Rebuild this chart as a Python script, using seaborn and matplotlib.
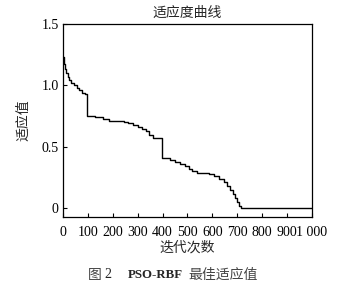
import matplotlib
matplotlib.use("Agg")
import matplotlib.pyplot as plt
import seaborn as sns
import pandas as pd

iterations = [0, 4, 8, 13, 20, 26, 33, 45, 55, 65, 78, 88, 98, 130, 160, 185, 245, 262, 280,
              300, 318, 332, 345, 360, 398, 430, 450, 470, 490, 505, 520, 540, 585, 605, 625,
              645, 660, 672, 682, 690, 700, 708, 715, 1000]
fitness = [1.23, 1.17, 1.13, 1.10, 1.07, 1.04, 1.02, 1.00, 0.98, 0.96, 0.94, 0.93, 0.75, 0.74,
           0.725, 0.71, 0.70, 0.69, 0.675, 0.66, 0.645, 0.63, 0.60, 0.575, 0.41, 0.395, 0.38,
           0.36, 0.345, 0.32, 0.30, 0.285, 0.275, 0.26, 0.235, 0.21, 0.185, 0.15, 0.12, 0.08,
           0.05, 0.02, 0.005, 0.005]
x_ticks = [0, 100, 200, 300, 400, 500, 600, 700, 800, 900, 1000]
x_tick_labels = ["0", "100", "200", "300", "400", "500", "600", "700", "800", "900", "1 000"]
y_ticks = [0, 0.5, 1.0, 1.5]
y_tick_labels = ["0", "0.5", "1.0", "1.5"]

sns.set_style("white")
plt.rcParams['font.family'] = ['Liberation Serif', 'Noto Sans CJK SC', 'DejaVu Sans']

df = pd.DataFrame({"iter": iterations, "fit": fitness})

fig = plt.figure(figsize=(3.54, 2.85), dpi=100)
ax = fig.add_axes([0.178, 0.239, 0.703, 0.677])
sns.lineplot(data=df, x="iter", y="fit", ax=ax, color="black", linewidth=1.0,
             drawstyle="steps-post")

ax.set_xlim(0, 1000)
ax.set_ylim(-0.07, 1.5)
ax.set_xticks(x_ticks)
ax.set_xticklabels(x_tick_labels)
ax.set_yticks(y_ticks)
ax.set_yticklabels(y_tick_labels)
ax.tick_params(direction="in", length=3, width=0.8, labelsize=10, colors="black",
               top=False, right=False, bottom=True, left=True)
ax.tick_params(axis="x", pad=6.5)
ax.tick_params(axis="y", pad=3)
for s in ax.spines.values():
    s.set_color("black")
    s.set_linewidth(0.9)

cjk = ['Noto Sans CJK SC', 'DejaVu Sans']
ax.set_title("适应度曲线", family=cjk, fontsize=10, pad=5)
ax.set_xlabel("迭代次数", family=cjk, fontsize=10, labelpad=1)
ax.set_ylabel("适应值", family=cjk, fontsize=10, labelpad=8)

yc = 1 - 275 / 285
fig.text(88 / 354, yc, "图", family=cjk, fontsize=10, color="#444444", ha="left", va="center")
fig.text(104 / 354, yc, "2", family=['Liberation Serif'], fontsize=10, color="#222222",
         ha="left", va="center")
fig.text(128 / 354, yc, "PSO-RBF", family=['Liberation Serif'], fontsize=9.3, weight="bold",
         ha="left", va="center")
fig.text(188 / 354, yc, "最佳适应值", family=cjk, fontsize=10, color="#444444",
         ha="left", va="center")

fig.savefig("out.png", dpi=100)
